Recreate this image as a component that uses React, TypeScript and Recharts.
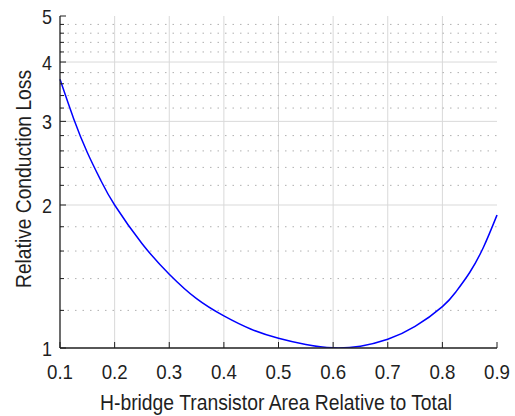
import React from 'react';
import { LineChart, Line, XAxis, YAxis, CartesianGrid } from 'recharts';

// Transistor area share (x) and relative conduction loss (y)
const areaShare = [0.1, 0.125, 0.15, 0.175, 0.2, 0.25, 0.3, 0.35, 0.4, 0.45, 0.5, 0.55, 0.6, 0.65, 0.7, 0.75, 0.8, 0.825, 0.85, 0.875, 0.9];
const relLoss = [3.68, 3.04, 2.58, 2.25, 2.0, 1.66, 1.43, 1.27, 1.168, 1.095, 1.048, 1.017, 1.001, 1.009, 1.043, 1.11, 1.222, 1.314, 1.442, 1.628, 1.905];

const xTicks = [0.1, 0.2, 0.3, 0.4, 0.5, 0.6, 0.7, 0.8, 0.9];
const yMajor = [1, 2, 3, 4, 5];
const yMinor = [1.2, 1.4, 1.6, 1.8, 2.2, 2.4, 2.6, 2.8, 3.2, 3.4, 3.6, 3.8, 4.2, 4.4, 4.6, 4.8];

const data = areaShare.map((x, i) => ({ x, loss: relLoss[i] }));
const yAll = [...yMajor, ...yMinor].sort((a, b) => a - b);

const AXIS = '#1f1f1f';
const FONT = '"Liberation Sans", Arial, sans-serif';

const LeftTick = (props: any) => {
  const { x, y, payload } = props;
  const major = Number.isInteger(payload.value);
  return (
    <g>
      <line x1={x} y1={y} x2={x + (major ? 6 : 4)} y2={y} stroke={AXIS} strokeWidth={1} />
      {major && (
        <text x={x - 8} y={y + 8} textAnchor="end" fontSize={21} fill={AXIS} fontFamily={FONT}
          textLength={10} lengthAdjust="spacingAndGlyphs">
          {payload.value}
        </text>
      )}
    </g>
  );
};

const RightTick = (props: any) => {
  const { x, y, payload } = props;
  const major = Number.isInteger(payload.value);
  return <line x1={x} y1={y} x2={x - (major ? 6 : 4)} y2={y} stroke={AXIS} strokeWidth={1} />;
};

const BottomTick = (props: any) => {
  const { x, y, payload } = props;
  return (
    <g>
      <line x1={x} y1={y} x2={x} y2={y - 6} stroke={AXIS} strokeWidth={1} />
      <text x={x} y={y + 31} textAnchor="middle" fontSize={21} fill={AXIS} fontFamily={FONT}
        textLength={26} lengthAdjust="spacingAndGlyphs">
        {payload.value.toFixed(1)}
      </text>
    </g>
  );
};

const TopTick = (props: any) => {
  const { x, y } = props;
  return <line x1={x} y1={y} x2={x} y2={y + 6} stroke={AXIS} strokeWidth={1} />;
};

export default function App() {
  return (
    <div style={{ position: 'absolute', left: 0, top: 0, width: 515, height: 416, background: '#fff' }}>
      <LineChart width={515} height={416} data={data} margin={{ top: 16, right: 18, left: 10, bottom: 10 }}>
        <CartesianGrid stroke="#d9d9d9" strokeWidth={1}
          verticalValues={xTicks.slice(1, -1)} horizontalValues={[2, 3, 4]} />
        <CartesianGrid stroke="#b0b0b0" strokeWidth={1} strokeDasharray="1.5 6" vertical={false}
          horizontalValues={yMinor} />
        <XAxis dataKey="x" type="number" domain={[0.1, 0.9]} ticks={xTicks} interval={0}
          height={58} tickSize={0} tickMargin={0} tickLine={false}
          axisLine={{ stroke: AXIS, strokeWidth: 1.3 }} tick={<BottomTick />}
          label={{
            content: () => (
              <text x={276} y={410} textAnchor="middle" fontSize={22} fill={AXIS} fontFamily={FONT}
                textLength={352} lengthAdjust="spacingAndGlyphs">
                H-bridge Transistor Area Relative to Total
              </text>
            ),
          }} />
        <XAxis xAxisId="top" orientation="top" dataKey="x" type="number" domain={[0.1, 0.9]} ticks={xTicks}
          interval={0} height={0} tickSize={0} tickMargin={0} tickLine={false}
          axisLine={{ stroke: AXIS, strokeWidth: 1.3 }} tick={<TopTick />} />
        <YAxis scale="log" type="number" domain={[1, 5]} ticks={yAll} interval={0} allowDataOverflow
          width={50} tickSize={0} tickMargin={0} tickLine={false}
          axisLine={{ stroke: AXIS, strokeWidth: 1.3 }} tick={<LeftTick />}
          label={{
            content: () => (
              <text x={31} y={179} transform="rotate(-90 31 179)" textAnchor="middle" fontSize={22}
                fill={AXIS} fontFamily={FONT} textLength={218} lengthAdjust="spacingAndGlyphs">
                Relative Conduction Loss
              </text>
            ),
          }} />
        <YAxis yAxisId="r" orientation="right" scale="log" type="number" domain={[1, 5]} ticks={yAll}
          interval={0} allowDataOverflow width={0} tickSize={0} tickMargin={0} tickLine={false}
          axisLine={{ stroke: AXIS, strokeWidth: 1.3 }} tick={<RightTick />} />
        <Line type="natural" dataKey="loss" stroke="#0000ff" strokeWidth={1.5} dot={false}
          isAnimationActive={false} />
      </LineChart>
    </div>
  );
}
